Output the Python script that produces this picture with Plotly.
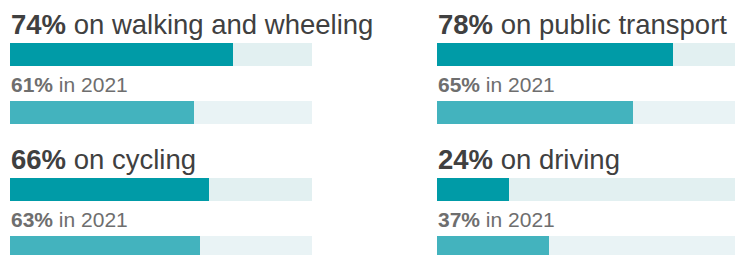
import plotly.graph_objects as go

# Data
modes = ["walking and wheeling", "public transport", "cycling", "driving"]
values_now = [74, 78, 66, 24]
values_2021 = [61, 65, 63, 37]
compare_year = "2021"

W, H = 735, 255
FONT = "Liberation Sans, Arial, Helvetica, sans-serif"
C_NOW = "#009ba7"
C_PREV = "#43b3be"
T_NOW = "#e2f0f1"
T_PREV = "#e9f3f5"

# layout geometry (pixels)
col_left = [10, 437]
track_w = 302
row_top = [0, 135]
bar_h = 23

fig = go.Figure()
annotations = []
for i, m in enumerate(modes):
    col, row = i % 2, i // 2
    xa = "x" if col == 0 else "x2"
    ya = "y"
    y0 = row_top[row]
    c1 = y0 + 43 + bar_h / 2
    c2 = y0 + 101 + bar_h / 2
    for cy, val, tc, fc in [(c1, values_now[i], T_NOW, C_NOW), (c2, values_2021[i], T_PREV, C_PREV)]:
        fig.add_trace(go.Bar(x=[100], y=[cy], base=0, width=bar_h, orientation="h",
                             marker=dict(color=tc, line=dict(width=0)), xaxis=xa, yaxis=ya,
                             hoverinfo="skip", showlegend=False))
        fig.add_trace(go.Bar(x=[val], y=[cy], base=0, width=bar_h, orientation="h",
                             marker=dict(color=fc, line=dict(width=0)), xaxis=xa, yaxis=ya,
                             showlegend=False))
    annotations.append(dict(xref=xa, yref=ya, x=0, y=y0 + 24.4, xanchor="left", yanchor="middle",
                            text=f"<b>{values_now[i]}%</b> on {m}", showarrow=False, borderpad=0,
                            font=dict(family=FONT, size=27.5, color="#404040")))
    annotations.append(dict(xref=xa, yref=ya, x=0, y=y0 + 84.7, xanchor="left", yanchor="middle",
                            text=f"<b>{values_2021[i]}%</b> in {compare_year}", showarrow=False, borderpad=0,
                            font=dict(family=FONT, size=21, color="#6e6e6e")))

right_visible = (W - col_left[1]) / track_w * 100
fig.update_layout(
    width=W, height=H, margin=dict(l=0, r=0, t=0, b=0),
    paper_bgcolor="white", plot_bgcolor="white",
    barmode="overlay", bargap=0,
    xaxis=dict(domain=[col_left[0] / W, (col_left[0] + track_w) / W], range=[0, 100],
               visible=False, fixedrange=True),
    xaxis2=dict(domain=[col_left[1] / W, 1], range=[0, right_visible],
                visible=False, fixedrange=True),
    yaxis=dict(range=[H, 0], visible=False, fixedrange=True),
    annotations=annotations,
)
fig.write_html("out.html", config={"displayModeBar": False},
               post_script="document.body.style.margin='0px';document.body.style.overflow='hidden';")
